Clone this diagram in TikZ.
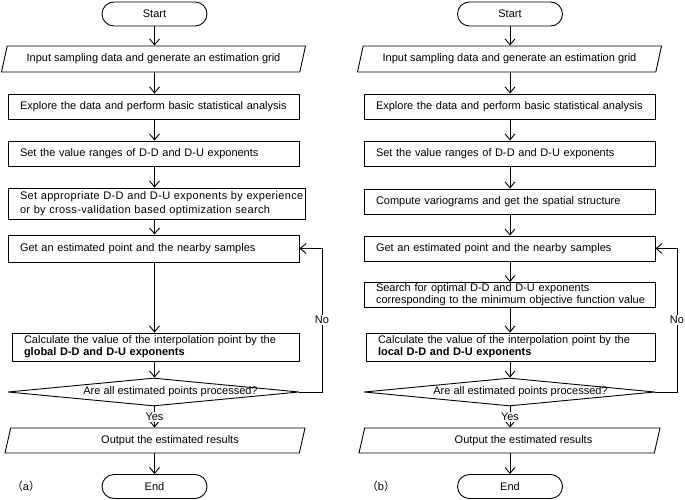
\documentclass[tikz,border=0pt]{standalone}
\usepackage{fontspec}
\setmainfont{Liberation Sans}
\newfontfamily\widefont[LetterSpace=3.0]{Liberation Sans}
\newfontfamily\cjkfont{Noto Sans CJK SC}
\usetikzlibrary{shapes.geometric,arrows.meta}

\begin{document}
\begin{tikzpicture}[x=1pt,y=-1pt,line width=0.9pt,
  font=\fontsize{11}{13}\selectfont,
  terminal/.style={draw,rounded corners=12pt,minimum width=105pt,minimum height=24pt,inner sep=0pt},
  io/.style={draw,trapezium,trapezium left angle=61,trapezium right angle=119,
    trapezium stretches body,minimum width=304pt,minimum height=26pt,inner sep=0pt},
  process/.style={draw,align=left,text width=267pt,inner xsep=12pt,inner ysep=0pt,minimum height=25pt},
  decision/.style={draw,diamond,minimum width=291pt,minimum height=28pt,inner sep=0pt},
  flow/.style={-{Straight Barb[length=6pt,width=10pt]}},
  tag/.style={fill=white,inner sep=1pt}]
\useasboundingbox (0,0) rectangle (685,500);

\node[terminal] (a-start) at (154.5,14) {Start};
\node[io] (a-input) at (153.5,59) {Input sampling data and generate an estimation grid};
\node[process] (a-explore) at (153.5,106.5) {Explore the data and perform basic statistical analysis};
\node[process] (a-range) at (153.5,153.5) {Set the value ranges of D-D and D-U exponents};
\node[process,text width=273pt,minimum height=31pt,font=\fontsize{11}{14}\widefont] (a-set) at (156.5,203.5)
  {\mbox{Set appropriate D-D and D-U exponents by experience}\\or by cross-validation based optimization search};
\node[process,minimum height=27pt] (a-get) at (153.5,248.5) {Get an estimated point and the nearby samples};
\node[process,text width=263pt,minimum height=28pt,font=\fontsize{11}{12}\selectfont] (a-calc) at (155.5,347)
  {Calculate the value of the interpolation point by the\\\textbf{global D-D and D-U exponents}};
\node[decision,label={[xshift=17pt]center:Are all estimated points processed?}] (a-check) at (153.5,392) {};
\node[io,minimum width=300pt,minimum height=25pt] (a-out) at (155,440.5) {\hspace*{30pt}Output the estimated results};
\node[terminal] (a-end) at (154.5,486.5) {End};
\node (a-tag) at (26,486) {{\cjkfont （}a{\cjkfont ）}};
\coordinate (a-side) at (322,392);

\draw[flow] (a-start.south) -- (a-start.south |- a-input.north);
\draw[flow] (a-start.south |- a-input.south) -- (a-start.south |- a-explore.north);
\draw[flow] (a-start.south |- a-explore.south) -- (a-start.south |- a-range.north);
\draw[flow] (a-start.south |- a-range.south) -- (a-start.south |- a-set.north);
\draw[flow] (a-start.south |- a-set.south) -- (a-start.south |- a-get.north);
\draw[flow] (a-start.south |- a-get.south) -- (a-start.south |- a-calc.north);
\draw[flow] (a-start.south |- a-calc.south) -- (a-start.south |- a-check.north);
\draw[flow] (a-start.south |- a-check.south) -- node[tag] {Yes} (a-start.south |- a-out.north);
\draw[flow] (a-start.south |- a-out.south) -- (a-end.north);
\draw[flow] (a-check.east) -- (a-side) |- node[tag,pos=0.25] {No} (a-get.east);

\begin{scope}[xshift=356pt]
\node[terminal] (b-start) at (154,14) {Start};
\node[io] (b-input) at (153.5,59) {Input sampling data and generate an estimation grid};
\node[process] (b-explore) at (153.5,106.5) {Explore the data and perform basic statistical analysis};
\node[process] (b-range) at (153.5,153.5) {Set the value ranges of D-D and D-U exponents};
\node[process] (b-vario) at (153.5,201.5) {Compute variograms and get the spatial structure};
\node[process] (b-get) at (153.5,248.5) {Get an estimated point and the nearby samples};
\node[process,font=\fontsize{11}{12}\selectfont] (b-search) at (153.5,295)
  {Search for optimal D-D and D-U exponents\\\mbox{corresponding to the minimum objective function value}};
\node[process,text width=265pt,minimum height=28pt,font=\fontsize{11}{12}\selectfont] (b-calc) at (154.5,347)
  {Calculate the value of the interpolation point by the\\\textbf{local D-D and D-U exponents}};
\node[decision,label={[xshift=11pt]center:Are all estimated points processed?}] (b-check) at (153.5,392) {};
\node[io,minimum width=301pt,minimum height=25pt] (b-out) at (153.5,440.5) {\hspace*{28pt}Output the estimated results};
\node[terminal] (b-end) at (154,486.5) {End};
\node (b-tag) at (25,486) {{\cjkfont （}b{\cjkfont ）}};
\coordinate (b-side) at (321,392);

\draw[flow] (b-start.south) -- (b-start.south |- b-input.north);
\draw[flow] (b-start.south |- b-input.south) -- (b-start.south |- b-explore.north);
\draw[flow] (b-start.south |- b-explore.south) -- (b-start.south |- b-range.north);
\draw[flow] (b-start.south |- b-range.south) -- (b-start.south |- b-vario.north);
\draw[flow] (b-start.south |- b-vario.south) -- (b-start.south |- b-get.north);
\draw[flow] (b-start.south |- b-get.south) -- (b-start.south |- b-search.north);
\draw[flow] (b-start.south |- b-search.south) -- (b-start.south |- b-calc.north);
\draw[flow] (b-start.south |- b-calc.south) -- (b-start.south |- b-check.north);
\draw[flow] (b-start.south |- b-check.south) -- node[tag] {Yes} (b-start.south |- b-out.north);
\draw[flow] (b-start.south |- b-out.south) -- (b-end.north);
\draw[flow] (b-check.east) -- (b-side) |- node[tag,pos=0.25] {No} (b-get.east);
\end{scope}
\end{tikzpicture}
\end{document}
